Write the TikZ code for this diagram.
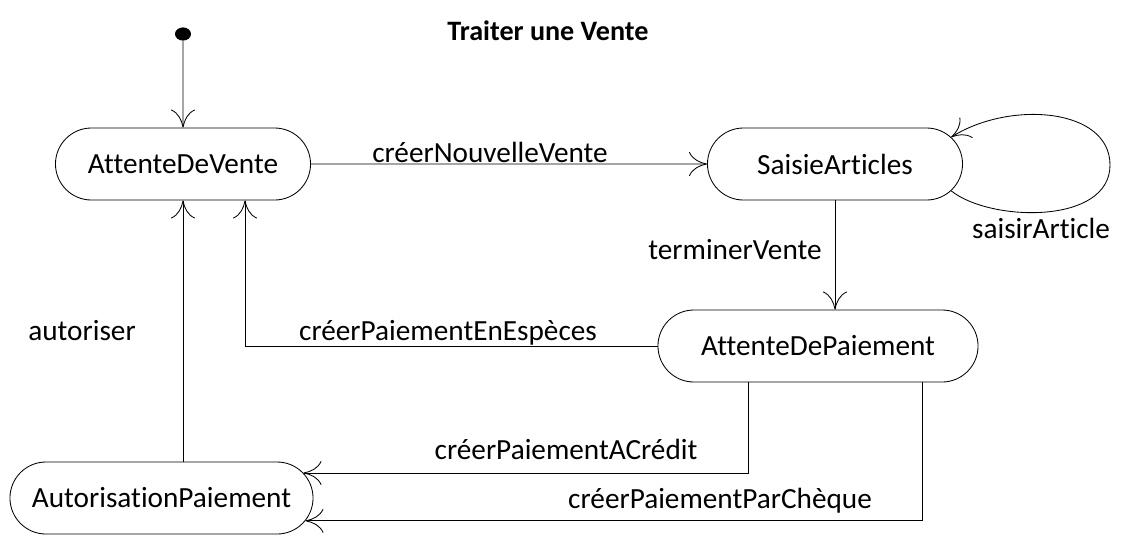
\documentclass[tikz,border=0pt]{standalone}
\usepackage{fontspec}
\setmainfont{Carlito}[Ligatures={NoCommon}]
\usetikzlibrary{arrows.meta,shapes.misc,shapes.geometric}
\tikzset{
  etat/.style={rounded rectangle, draw, minimum height=1.8cm, inner sep=0pt},
  trans/.style={-{To[length=4.5mm,width=6mm]}},
  etiq/.style={anchor=base, inner sep=0pt}
}
\begin{document}
\begin{tikzpicture}[x=0.025cm,y=-0.025cm,line width=0.6pt,font=\fontsize{20.8}{25}\selectfont]
\useasboundingbox (0,0) rectangle (1144,549);
\node [etiq, font=\fontsize{20}{24}\selectfont\bfseries] (titre) at (548,40) {Traiter une Vente};
\node [ellipse, fill, minimum width=0.4cm, minimum height=0.33cm, inner sep=0pt] (debut) at (183,34) {};
% etats
\node [etat, minimum width=6.375cm] (adv) at (183,164) {AttenteDeVente};
\node [etat, minimum width=6.375cm] (sa) at (835,164) {SaisieArticles};
\node [etat, minimum width=8cm] (adp) at (818,346) {AttenteDePaiement};
\node [etat, minimum width=7.575cm] (ap) at (161.5,498) {AutorisationPaiement};
% transitions
\draw [trans] (debut) -- (adv);
\draw [trans] (adv) -- (sa);
\draw [trans] (sa.-13) .. controls (990,222) and (1110,225) .. (1110,165) .. controls (1110,108) and (1010,100) .. (sa.13);
\draw [trans] (sa.south) -- (sa.south |- adp.north);
\draw [trans] (adp.west) -| ([xshift=1.55cm]adv.south);
\draw [trans] (ap.north -| adv.south) -- (adv.south);
\draw [trans] ([xshift=-1.75cm]adp.south) |- (ap.10);
\draw [trans] ([xshift=2.6cm]adp.south) |- (ap.-9);
% etiquettes
\node [etiq] (creer) at (490,162) {créerNouvelleVente};
\node [etiq] (saisir) at (1041,238) {saisirArticle};
\node [etiq] (terminer) at (735,259) {terminerVente};
\node [etiq] (autoriser) at (82,340) {autoriser};
\node [etiq] (especes) at (448,340) {créerPaiementEnEspèces};
\node [etiq] (credit) at (566,459) {créerPaiementACrédit};
\node [etiq] (cheque) at (720,508) {créerPaiementParChèque};
\end{tikzpicture}
\end{document}
